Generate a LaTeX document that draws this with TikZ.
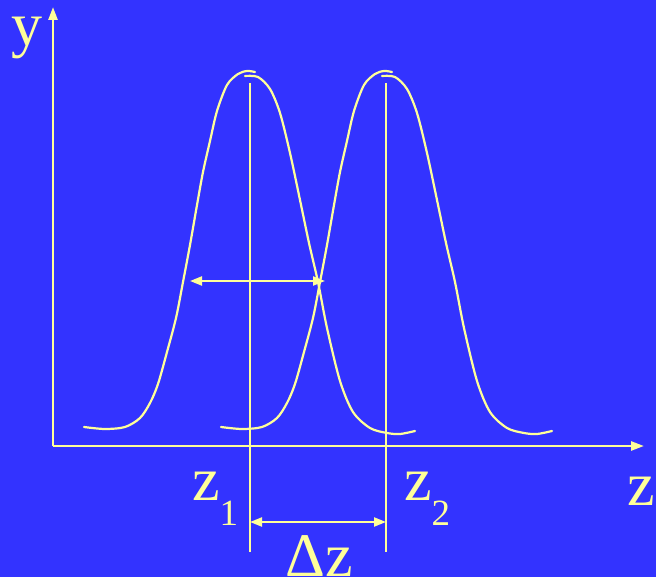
\documentclass[tikz,border=0pt]{standalone}
\usepackage{fontspec}
\setmainfont{Liberation Serif}
\usetikzlibrary{arrows.meta}
\definecolor{bg}{HTML}{3333FF}
\definecolor{ink}{HTML}{FFFF99}
\begin{document}
\begin{tikzpicture}[x=1pt,y=-1pt,
  curve/.style={draw=ink,line width=2.2pt,line cap=round},
  axis/.style={draw=ink,line width=2.5pt,-{Triangle[length=13pt,width=9pt]}},
  guide/.style={draw=ink,line width=2.2pt},
  dimarrow/.style={draw=ink,line width=2.2pt,{Triangle[length=12pt,width=9pt]}-{Triangle[length=12pt,width=9pt]}},
  lbl/.style={text=ink,font=\fontsize{62}{62}\selectfont,inner sep=0pt,anchor=base west}]
\useasboundingbox (0,0) rectangle (656,577);
\fill[bg] (0,0) rectangle (656,577);
% axes
\coordinate (O) at (53,446);
\coordinate (ytip) at (53,7);
\coordinate (xtip) at (644,446);
\draw[axis] (O) -- (ytip);
\draw[axis] (O) -- (xtip);
% guides
\coordinate (g1t) at (250,83);
\coordinate (g1b) at (250,552);
\coordinate (g2t) at (386,83);
\coordinate (g2b) at (386,552);
\draw[guide] (g1t) -- (g1b);
\draw[guide] (g2t) -- (g2b);
% curves
\foreach \s in {0,137}{
\begin{scope}[xshift=\s pt]
\draw[curve] plot[smooth,tension=0.5] coordinates {(84,427) (105,429) (125,427) (140,418) (150,403) (158,384) (167,352) (176,318) (183,282) (190,245) (197,205) (203,172) (210,141) (217,111) (227,85) (238,74) (247,71) (255,72)};
\draw[curve] plot[smooth,tension=0.5] coordinates {(245,76) (258,77) (270,89) (280,113) (290,153) (300,200) (309,243) (318,282) (327,328) (340,381) (353,412) (370,428) (387,433) (400,434) (415,431)};
\end{scope}}
% width arrow
\coordinate (wl) at (190,281);
\coordinate (wr) at (325,281);
\draw[dimarrow] (wl) -- (wr);
% delta arrow
\coordinate (dl) at (250,522);
\coordinate (dr) at (386,522);
\draw[dimarrow] (dl) -- (dr);
% labels
\node[lbl] (ylab) at (11,46) {y};
\node[lbl] (zlab) at (627,505) {z};
\node[lbl] (z1) at (192,500) {z\raisebox{-25pt}{\fontsize{37}{37}\selectfont 1}};
\node[lbl] (z2) at (404,500) {z\raisebox{-25pt}{\fontsize{37}{37}\selectfont 2}};
\node[lbl] (dz) at (285,576) {Δz};
\end{tikzpicture}
\end{document}
